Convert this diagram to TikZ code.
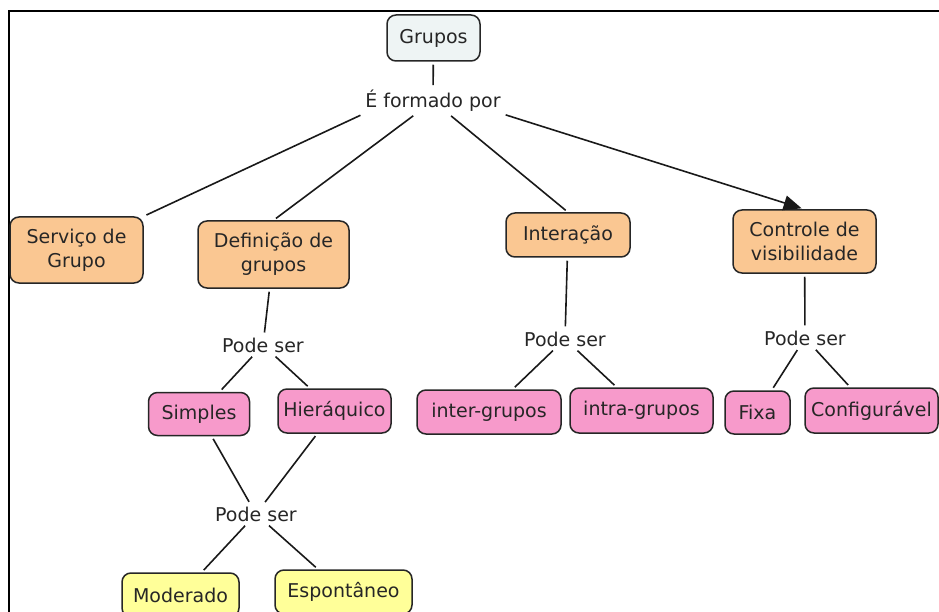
\documentclass[tikz,border=0pt]{standalone}
\usepackage{fontspec}
\setmainfont{DejaVu Sans}
\usetikzlibrary{arrows.meta}
\definecolor{laranja}{RGB}{250,199,146}
\definecolor{rosa}{RGB}{247,154,203}
\definecolor{amarelo}{RGB}{255,255,153}
\definecolor{cinza}{RGB}{238,244,244}

\begin{document}
\begin{tikzpicture}[x=1pt,y=-1pt,
		conceito/.style={draw=black!85,line width=1.5pt,rounded corners=9pt,align=center,inner sep=0pt,text=black!85,font=\fontsize{19}{24}\selectfont},
		ligacao/.style={inner sep=2pt,text=black!85,font=\fontsize{19}{24}\selectfont},
		liga/.style={line width=1.6pt,draw=black!90,shorten <=3pt,shorten >=3pt}]
			\useasboundingbox (0,0) rectangle (939,612);
			\draw[line width=2pt] (939,11) -- (9,11) -- (9,612);
			\node[conceito,fill=cinza,minimum width=93pt,minimum height=46pt] (grupos) at (433.5,38) {Grupos};
			\node[ligacao] (formado) at (433,101) {É formado por};
			\node[conceito,fill=laranja,minimum width=133pt,minimum height=66pt] (servico) at (76.5,250) {Serviço de\\Grupo};
			\node[conceito,fill=laranja,minimum width=151pt,minimum height=67pt] (definicao) at (273.5,254.5) {Definição de\\grupos};
			\node[conceito,fill=laranja,minimum width=124pt,minimum height=44pt] (interacao) at (568,235) {Interação};
			\node[conceito,fill=laranja,minimum width=143pt,minimum height=63pt] (controle) at (804.5,241.5) {Controle de\\visibilidade};
			\node[ligacao] (podeA) at (263,345) {Pode ser};
			\node[conceito,fill=rosa,minimum width=101pt,minimum height=43pt] (simples) at (199,414) {Simples};
			\node[conceito,fill=rosa,minimum width=113pt,minimum height=44pt] (hier) at (334.5,411) {Hieráquico};
			\node[ligacao] (podeB) at (256,514) {Pode ser};
			\node[conceito,fill=amarelo,minimum width=117pt,minimum height=44pt] (moderado) at (180.5,595) {Moderado};
			\node[conceito,fill=amarelo,minimum width=137pt,minimum height=44pt] (espontaneo) at (343.5,592) {Espontâneo};
			\node[ligacao] (podeC) at (565,339) {Pode ser};
			\node[conceito,fill=rosa,minimum width=144pt,minimum height=44pt] (inter) at (489,412) {inter-grupos};
			\node[conceito,fill=rosa,minimum width=143pt,minimum height=45pt] (intra) at (641.5,410.5) {intra-grupos};
			\node[ligacao] (podeD) at (805,338) {Pode ser};
			\node[conceito,fill=rosa,minimum width=65pt,minimum height=43pt] (fixa) at (757.5,412.5) {Fixa};
			\node[conceito,fill=rosa,minimum width=133pt,minimum height=45pt] (config) at (871.5,410.5) {Configurável};
			\draw[liga] (grupos) -- (formado);
			\draw[liga] (formado.south west) -- (servico.north east);
			\draw[liga] (formado) -- (definicao.north);
			\draw[liga] (formado) -- (interacao.north);
			\draw[liga,-{Triangle[length=18pt,width=15pt]}] (formado.south east) -- (controle.north);
			\draw[liga] (definicao) -- (podeA);
			\draw[liga] (podeA) -- (simples);
			\draw[liga] (podeA) -- (hier);
			\draw[liga] (simples) -- (podeB);
			\draw[liga] (hier) -- (podeB);
			\draw[liga] (podeB) -- (moderado);
			\draw[liga] (podeB) -- (espontaneo);
			\draw[liga] (interacao) -- (podeC);
			\draw[liga] (podeC) -- (inter);
			\draw[liga] (podeC) -- (intra);
			\draw[liga] (controle) -- (podeD);
			\draw[liga] (podeD) -- (fixa);
			\draw[liga] (podeD) -- (config);
		\end{tikzpicture}
\end{document}
